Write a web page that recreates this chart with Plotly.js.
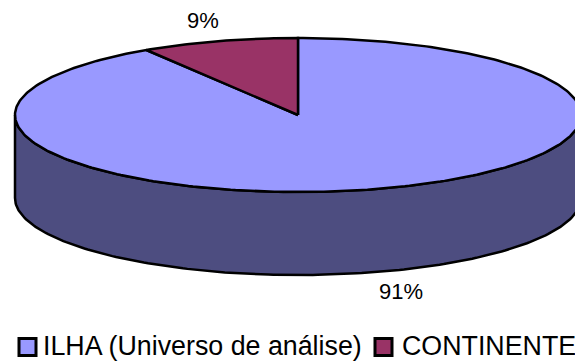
<!DOCTYPE html>
<html><head><meta charset="utf-8">
<script src="https://cdn.plot.ly/plotly-3.0.1.min.js"></script>
<style>html,body{margin:0;padding:0;background:#fff}</style>
</head><body><div id="c" style="width:575px;height:362px"></div>
<script>
const categories = ['ILHA (Universo de análise)', 'CONTINENTE'];
const shares = [91, 9];
const topColors = ['#9999ff', '#993366'];
const sideColor = '#4d4d80';

const cx = 298, cy = 115, rx = 283, ry = 77, depth = 83;
const total = shares.reduce((a, b) => a + b, 0);
const pt = (deg, dz) => [cx + rx * Math.sin(deg * Math.PI / 180), cy - ry * Math.cos(deg * Math.PI / 180) + (dz || 0)];
function arc(a, b, dz) {
  const n = Math.max(2, Math.ceil(Math.abs(b - a))), out = [];
  for (let i = 0; i <= n; i++) out.push(pt(a + (b - a) * i / n, dz));
  return out;
}
const traces = [];
const lineStyle = {color: '#000', width: 2.5};
// side wall (front half of the rim)
const wall = arc(90, 270, 0).concat(arc(270, 90, depth));
wall.push(wall[0]);
traces.push({type: 'scatter', mode: 'lines', x: wall.map(p => p[0]), y: wall.map(p => p[1]), fill: 'toself',
  fillcolor: sideColor, line: lineStyle, hoverinfo: 'skip', showlegend: false});
// top slices
let start = 0;
shares.forEach((v, i) => {
  const end = start + 360 * v / total;
  const pts = [[cx, cy]].concat(arc(start, end, 0));
  pts.push([cx, cy]);
  traces.push({type: 'scatter', mode: 'lines', name: categories[i], x: pts.map(p => p[0]), y: pts.map(p => p[1]),
    fill: 'toself', fillcolor: topColors[i], line: lineStyle, hoveron: 'fills', showlegend: false});
  start = end;
});
// legend swatches
const swatchX = [27.5, 383.5], swatchY = 347;
categories.forEach((c, i) => traces.push({type: 'scatter', mode: 'markers', x: [swatchX[i]], y: [swatchY],
  marker: {symbol: 'square', size: 17, color: topColors[i], line: {color: '#000', width: 3}}, hoverinfo: 'skip', showlegend: false}));

const font = {family: 'Liberation Sans, Arial, sans-serif', size: 22, color: '#000'};
const legFont = {family: 'Liberation Sans, Arial, sans-serif', size: 26.8, color: '#000'};
const annotations = [
  {x: 400.5, y: 291.5, text: shares[0] + '%', font},
  {x: 202.5, y: 20, text: shares[1] + '%', font},
  {x: 41, y: 346, text: categories[0], font: legFont, xanchor: 'left'},
  {x: 399.5, y: 346, text: categories[1], font: legFont, xanchor: 'left'}
].map(a => Object.assign({xref: 'x', yref: 'y', showarrow: false, yanchor: 'middle'}, a));

Plotly.newPlot('c', traces, {
  width: 575, height: 362, margin: {l: 0, r: 0, t: 0, b: 0},
  paper_bgcolor: '#fff', plot_bgcolor: '#fff', showlegend: false,
  xaxis: {range: [0, 575], visible: false, fixedrange: true},
  yaxis: {range: [362, 0], visible: false, fixedrange: true},
  annotations
}, {displayModeBar: false, staticPlot: true});
</script></body></html>
